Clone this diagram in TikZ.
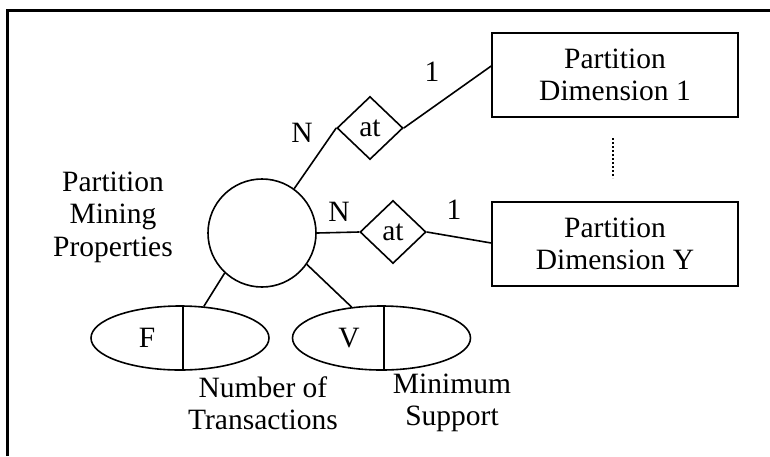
\documentclass[tikz,border=0pt]{standalone}
\usepackage{fontspec}
\setmainfont{Liberation Serif}
\usetikzlibrary{positioning,shapes.geometric}

\tikzset{
  every node/.style = {font = \fontsize{29.5}{32.5}\selectfont, align = center},
  entity/.style = {draw, line width = 1.6pt, shape = rectangle, minimum width = 246pt, minimum height = 84pt},
  relation/.style = {draw, line width = 1.6pt, shape = diamond, minimum width = 66pt, minimum height = 63pt, inner sep = 0pt},
  weakent/.style = {draw, line width = 1.6pt, shape = circle, minimum size = 108pt},
  attrib/.style = {draw, line width = 1.6pt, shape = ellipse, minimum width = 178pt, minimum height = 64pt, inner sep = 0pt},
  link/.style = {line width = 1.6pt}
}

\begin{document}
\begin{tikzpicture}[x = 1pt, y = -1pt]
  \useasboundingbox (0,0) rectangle (770,456);
  \draw[line width = 3pt] (7,456) -- (7,10) -- (770,10);

  \node [weakent] (props) at (262,233) {};
  \node (propslbl) at (113,217) {Partition\\ Mining\\ Properties};

  \node [entity] (dim1) at (615,75) {Partition\\ Dimension 1};
  \node [entity] (dimy) at (615,244) {Partition\\ Dimension Y};
  \draw [line width = 1.6pt, dash pattern = on 1.6pt off 2.4pt] (613,138) -- (613,178);

  \node [relation] (at1) at (370,128) {at};
  \node [relation] (aty) at (393,232) {at};

  \node [attrib] (fattr) at (180,338) {};
  \node [attrib] (vattr) at (381.5,338) {};
  \draw [link] ([xshift = 3pt]fattr.north) -- ([xshift = 3pt]fattr.south);
  \draw [link] ([xshift = 2.5pt]vattr.north) -- ([xshift = 2.5pt]vattr.south);
  \node (fval) at (147,338) {F};
  \node (vval) at (349,338) {V};
  \node (flbl) at (263,403) {Number of\\ Transactions};
  \node (vlbl) at (452,403) {Minimum\\ Support};

  \draw [link] (props.54) -- (at1.west);
  \draw [link] (at1.east) -- ([yshift = 9pt]dim1.west);
  \draw [link] (props.east) -- (aty.west);
  \draw [link] (aty.east) -- ([yshift = 1pt]dimy.west);
  \draw [link] (props.-133) -- (fattr.53);
  \draw [link] (props.-35) -- (vattr.134);

  \node (n1) at (302,133) {N};
  \node (one1) at (432,72) {1};
  \node (ny) at (339,212) {N};
  \node (oney) at (454,210) {1};
\end{tikzpicture}
\end{document}
